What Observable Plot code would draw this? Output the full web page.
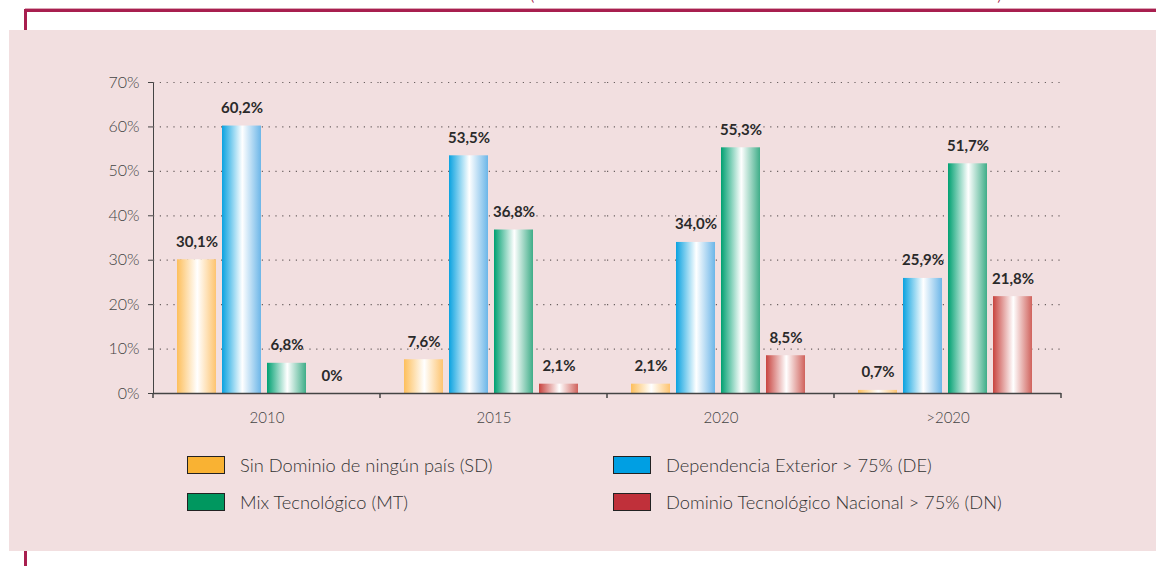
<!DOCTYPE html>
<html><head><meta charset="utf-8">
<script src="https://cdn.jsdelivr.net/npm/d3@7"></script>
<script src="https://cdn.jsdelivr.net/npm/@observablehq/plot@0.6"></script>
<style>
html,body{margin:0;padding:0}
body{width:1156px;height:566px;overflow:hidden;background:#fff;position:relative;font-family:Lato,"Open Sans",sans-serif}
#topline{position:absolute;left:25px;top:8px;width:1131px;height:3px;background:#a81f4f;border-top:1px solid #dba5b6}
#vline1{position:absolute;left:24px;top:9px;width:3px;height:22px;background:#a81f4f}
#vline2{position:absolute;left:24px;top:551px;width:3px;height:15px;background:#a81f4f}
#panel{position:absolute;left:9px;top:30px;width:1147px;height:521px;background:#f2dfe0}
#chart{position:absolute;left:0;top:30px}
.paren{position:absolute;top:-21px;font-size:22px;line-height:26px;color:#a81f4f;font-weight:300}
.sw{position:absolute;width:36px;height:16px;border:1px solid #222}
.lt{position:absolute;font-size:18.3px;font-weight:300;color:#333;line-height:20px;white-space:nowrap}
svg g[aria-label="y-axis tick label"] text{font-size:16px;font-weight:300;fill:#444}
svg g[aria-label="fx-axis tick label"] text{font-size:15px;font-weight:300;fill:#444}
</style></head><body>
<div class="paren" style="left:529px">(</div>
<div class="paren" style="left:997px">)</div>
<div id="topline"></div>
<div id="vline1"></div>
<div id="panel"></div>
<div id="vline2"></div>
<div id="chart"></div>
<div id="legend"></div>
<script>
const years = ["2010", "2015", "2020", ">2020"];
const seriesKeys = ["SD", "DE", "MT", "DN"];
const seriesNames = [
  "Sin Dominio de ningún país (SD)",
  "Dependencia Exterior > 75% (DE)",
  "Mix Tecnológico (MT)",
  "Dominio Tecnológico Nacional > 75% (DN)"
];
const SD = [30.1, 7.6, 2.1, 0.7];
const DE = [60.2, 53.5, 34.0, 25.9];
const MT = [6.8, 36.8, 55.3, 51.7];
const DN = [0, 2.1, 8.5, 21.8];
const yTicks = [0, 10, 20, 30, 40, 50, 60, 70];

const seriesValues = {SD, DE, MT, DN};
const legendColors = {SD: "#f9b233", DE: "#009fe3", MT: "#00975f", DN: "#c0303a"};
const gradStops = {
  SD: ["#fdbf5c", "#fdc470"],
  DE: ["#0aa2e0", "#6cb6e8"],
  MT: ["#00a071", "#3fad88"],
  DN: ["#c8443f", "#d0625c"]
};

const data = [];
years.forEach((year, i) => {
  seriesKeys.forEach(s => data.push({year, series: s, value: seriesValues[s][i]}));
});

const fmt = v => v === 0 ? "0%" : v.toFixed(1).replace(".", ",") + "%";

const plot = Plot.plot({
  width: 1156,
  height: 410,
  marginLeft: 151,
  marginRight: 94,
  marginTop: 52,
  marginBottom: 47,
  style: {background: "transparent", fontFamily: "Lato, sans-serif", color: "#444", overflow: "visible"},
  fx: {domain: years, padding: 0, label: null, tickSize: 0, tickPadding: 19, axis: "bottom"},
  x: {domain: seriesKeys, paddingInner: 0.14, paddingOuter: 0.58, align: 0.45, axis: null},
  y: {domain: [0, 70], ticks: yTicks, tickFormat: d => d + "%", tickSize: 5, tickPadding: 9, line: true, label: null},
  color: {type: "identity"},
  marks: [
    Plot.gridY(yTicks.slice(1), {stroke: "#6a6060", strokeOpacity: 1, strokeWidth: 1.2, strokeDasharray: "1.2,5.6"}),
    Plot.barY(data, {fx: "year", x: "series", y: "value", fill: d => "url(#grad-" + d.series + ")"}),
    Plot.ruleY([0], {stroke: "#444", strokeWidth: 1.5}),
    Plot.text(data, {fx: "year", x: "series", y: "value", text: d => fmt(d.value), dy: -13, lineAnchor: "bottom",
      fontWeight: "bold", fontSize: 15, fill: "#2a2a2a"})
  ]
});

const svg = d3.select(plot);
const defs = svg.insert("defs", ":first-child");
seriesKeys.forEach(s => {
  const g = defs.append("linearGradient").attr("id", "grad-" + s).attr("x1", 0).attr("x2", 1).attr("y1", 0).attr("y2", 0);
  g.append("stop").attr("offset", "0%").attr("stop-color", gradStops[s][0]);
  g.append("stop").attr("offset", "52%").attr("stop-color", "#ffffff");
  g.append("stop").attr("offset", "100%").attr("stop-color", gradStops[s][1]);
});
// boundary ticks along x axis
const fx = plot.scale("fx"), y = plot.scale("y");
const y0 = y.apply(0);
const edges = years.map(yr => fx.apply(yr)).concat([fx.apply(years[years.length - 1]) + fx.bandwidth]);
svg.append("g").selectAll("line").data(edges).join("line")
  .attr("x1", d => d).attr("x2", d => d).attr("y1", y0).attr("y2", y0 + 5)
  .attr("stroke", "#444").attr("stroke-width", 1.5);

document.getElementById("chart").appendChild(plot);

// legend
const legend = document.getElementById("legend");
const pos = [[187, 456], [613, 456], [187, 493], [613, 493]];
seriesKeys.forEach((s, i) => {
  const [lx, ly] = pos[i];
  const sw = document.createElement("div");
  sw.className = "sw";
  sw.style.left = lx + "px"; sw.style.top = ly + "px"; sw.style.background = legendColors[s];
  legend.appendChild(sw);
  const t = document.createElement("div");
  t.className = "lt";
  t.textContent = seriesNames[i];
  t.style.left = (lx + 53) + "px"; t.style.top = (ly - 1) + "px";
  legend.appendChild(t);
});
</script>
</body></html>
